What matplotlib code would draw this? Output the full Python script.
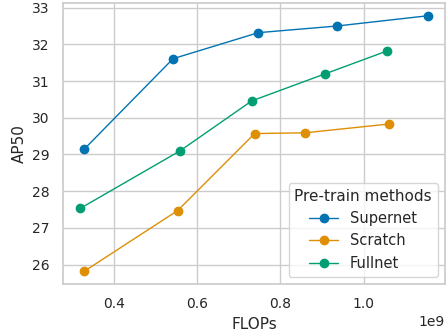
import matplotlib
matplotlib.use("Agg")
import matplotlib.pyplot as plt
import seaborn as sns

sns.set_theme(style="whitegrid", palette="colorblind")

supernet_flops = [0.329e9, 0.542e9, 0.747e9, 0.935e9, 1.154e9]
supernet_ap = [29.15, 31.61, 32.32, 32.50, 32.78]

scratch_flops = [0.329e9, 0.553e9, 0.738e9, 0.859e9, 1.061e9]
scratch_ap = [25.82, 27.47, 29.57, 29.59, 29.83]

fullnet_flops = [0.319e9, 0.559e9, 0.731e9, 0.908e9, 1.056e9]
fullnet_ap = [27.53, 29.10, 30.46, 31.20, 31.82]

colors = sns.color_palette("colorblind")

fig, ax = plt.subplots(figsize=(4.46, 3.34), dpi=100)
ax.plot(supernet_flops, supernet_ap, marker="o", lw=1, ms=6, color=colors[0], label="Supernet")
ax.plot(scratch_flops, scratch_ap, marker="o", lw=1, ms=6, color=colors[1], label="Scratch")
ax.plot(fullnet_flops, fullnet_ap, marker="o", lw=1, ms=6, color=colors[2], label="Fullnet")

ax.set_xlabel("FLOPs", fontsize=11)
ax.set_ylabel("AP50", fontsize=11)
ax.tick_params(labelsize=10)
ax.xaxis.get_offset_text().set_fontsize(10)
ax.legend(title="Pre-train methods", loc="lower right", fontsize=10.5, title_fontsize=11)

fig.subplots_adjust(left=0.141, right=0.998, bottom=0.150, top=0.991)
fig.savefig("out.png", dpi=100)
